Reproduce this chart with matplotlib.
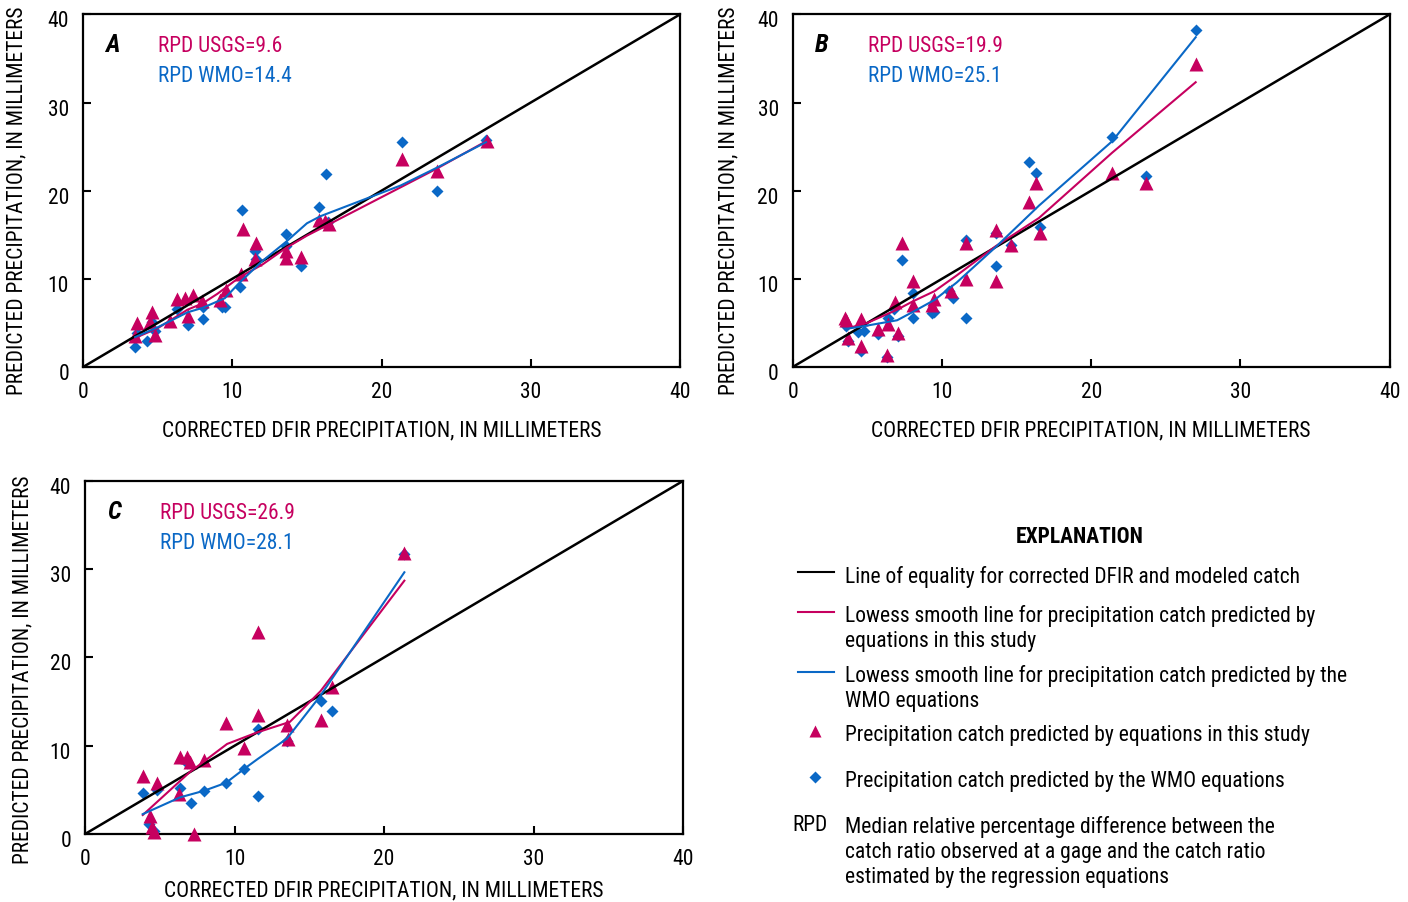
import matplotlib
matplotlib.use("Agg")
import matplotlib.pyplot as plt
from matplotlib import font_manager
from matplotlib.transforms import ScaledTranslation

installed = set(f.name for f in font_manager.fontManager.ttflist)
FONT = 'DejaVu Sans'
for cand in ['Roboto Condensed', 'Archivo Narrow', 'Liberation Sans Narrow', 'Barlow Semi Condensed', 'Asap Condensed']:
    if cand in installed:
        FONT = cand
        break
plt.rcParams['font.family'] = [FONT, 'DejaVu Sans']

PINK = '#C6005F'
BLUE = '#0A68C6'

# Panel A
a_usgs_x = [3.5, 3.6, 4.5, 4.6, 4.8, 5.8, 6.3, 6.8, 7.06, 7.35, 7.95, 9.2, 9.55, 10.56, 10.7,
            11.5, 11.57, 13.6, 13.6, 14.6, 15.8, 16.2, 16.5, 21.4, 23.7, 27.05]
a_usgs_y = [3.55, 5.0, 5.06, 6.27, 3.6, 5.25, 7.7, 7.8, 5.8, 8.16, 7.5, 7.6, 8.76, 10.5, 15.6,
            12.2, 14.05, 13.2, 12.4, 12.5, 16.7, 16.6, 16.2, 23.6, 22.2, 25.6]
a_wmo_x = [3.5, 3.6, 4.27, 4.6, 4.8, 6.3, 7.06, 8.06, 8.06, 9.29, 9.5, 10.5, 10.68, 11.5,
           11.6, 13.6, 13.6, 14.6, 15.8, 16.3, 16.4, 21.4, 23.7, 27.0]
a_wmo_y = [2.23, 3.9, 2.98, 5.06, 4.1, 6.6, 4.8, 5.4, 6.76, 6.76, 6.8, 9.1, 17.8, 13.1,
           12.3, 15.07, 13.75, 11.4, 18.2, 21.9, 16.4, 25.5, 20.0, 25.8]
a_usgs_fit_x = [3.5, 5, 7, 8, 9, 10.5, 12, 13.6, 15, 16.5, 21.3, 23.7, 27]
a_usgs_fit_y = [3.3, 4.4, 6.5, 7.2, 8.3, 10.2, 11.6, 13.5, 14.9, 16.2, 20.4, 22.5, 25.6]
a_wmo_fit_x = [3.5, 5, 7, 8, 9.5, 10.5, 12, 13.6, 15, 15.9, 21.3, 23.7, 27]
a_wmo_fit_y = [3.4, 4.5, 6.2, 6.7, 7.8, 9.6, 12.0, 14.2, 16.3, 17.1, 20.6, 22.6, 25.5]

# Panel B
b_usgs_x = [3.5, 3.6, 3.7, 4.6, 4.55, 5.7, 6.3, 6.4, 6.83, 7.06, 7.35, 8.06, 8.06, 9.45, 9.3,
            10.6, 11.6, 11.6, 13.6, 13.6, 14.6, 16.55, 15.8, 16.3, 21.4, 23.65, 27.0]
b_usgs_y = [5.5, 5.3, 3.3, 5.4, 2.35, 4.3, 1.36, 4.87, 7.4, 3.9, 14.1, 9.8, 7.0, 7.7, 7.0,
            8.65, 14.05, 10.0, 15.55, 9.8, 13.8, 15.2, 18.7, 20.85, 22.0, 20.85, 34.4]
b_wmo_x = [3.6, 4.4, 4.8, 4.6, 3.7, 5.7, 6.4, 6.3, 7.06, 7.35, 6.8, 8.06, 8.06, 9.3, 9.5,
           10.75, 10.5, 11.6, 11.6, 13.6, 13.6, 14.6, 16.55, 15.8, 16.3, 21.4, 23.65, 27.0]
b_wmo_y = [4.7, 4.0, 4.05, 1.85, 3.0, 3.74, 5.6, 1.1, 3.55, 12.1, 6.6, 8.4, 5.55, 6.1, 6.2,
           7.8, 8.6, 14.4, 5.55, 15.2, 11.4, 13.8, 15.9, 23.3, 22.06, 26.1, 21.7, 38.2]
b_usgs_fit_x = [3.5, 5, 7, 8, 9.5, 11, 13.6, 16.5, 21.4, 27]
b_usgs_fit_y = [4.3, 5.0, 6.5, 7.4, 8.6, 10.4, 13.7, 16.9, 24.3, 32.3]
b_wmo_fit_x = [3.5, 5, 7, 8, 9.5, 11, 13.6, 16.5, 21.4, 27]
b_wmo_fit_y = [4.3, 4.7, 5.3, 6.2, 7.6, 9.6, 13.6, 18.3, 25.6, 37.4]

# Panel C
c_usgs_x = [3.86, 4.8, 4.35, 4.46, 4.6, 6.35, 6.8, 7.0, 6.3, 7.96, 7.3, 9.43, 10.66, 11.55,
            11.55, 13.5, 13.6, 15.76, 16.5, 21.36]
c_usgs_y = [6.6, 5.74, 2.08, 0.75, 0.2, 8.7, 8.7, 8.2, 4.5, 8.4, 0.0, 12.6, 9.8, 22.85,
            13.5, 12.4, 10.8, 12.95, 16.6, 31.8]
c_wmo_x = [3.86, 4.8, 4.3, 4.6, 6.35, 6.8, 7.07, 7.96, 9.43, 10.66, 11.55, 11.6, 13.5,
           15.76, 16.5, 21.36]
c_wmo_y = [4.65, 5.0, 1.13, 0.35, 5.2, 8.1, 3.5, 4.9, 5.8, 7.4, 11.9, 4.3, 10.5,
           15.1, 13.9, 31.7]
c_usgs_fit_x = [3.86, 7.0, 9.5, 11.5, 13.7, 15.76, 21.36]
c_usgs_fit_y = [2.15, 7.0, 10.2, 11.5, 12.7, 16.2, 28.7]
c_wmo_fit_x = [3.86, 6.35, 7.96, 9.43, 10.66, 11.55, 13.5, 15.76, 21.36]
c_wmo_fit_y = [2.25, 4.15, 4.9, 5.8, 7.4, 8.5, 10.8, 15.7, 29.65]

panels = [
    ('A', 'RPD USGS=9.6', 'RPD WMO=14.4', a_usgs_x, a_usgs_y, a_wmo_x, a_wmo_y,
     a_usgs_fit_x, a_usgs_fit_y, a_wmo_fit_x, a_wmo_fit_y,
     [0.059, 0.5925, 0.424, 0.3905], -0.150, -0.094, 0.473),
    ('B', 'RPD USGS=19.9', 'RPD WMO=25.1', b_usgs_x, b_usgs_y, b_wmo_x, b_wmo_y,
     b_usgs_fit_x, b_usgs_fit_y, b_wmo_fit_x, b_wmo_fit_y,
     [0.563, 0.5925, 0.424, 0.3905], -0.150, -0.089, 0.473),
    ('C', 'RPD USGS=26.9', 'RPD WMO=28.1', c_usgs_x, c_usgs_y, c_wmo_x, c_wmo_y,
     c_usgs_fit_x, c_usgs_fit_y, c_wmo_fit_x, c_wmo_fit_y,
     [0.0604, 0.0753, 0.4247, 0.391], -0.130, -0.087, 0.467),
]

fig = plt.figure(figsize=(14.08, 9.03), dpi=100)
FS = 15.5
shift = ScaledTranslation(0, -4 / 100, fig.dpi_scale_trans)

for (letter, t1, t2, ux, uy, wx, wy, ufx, ufy, wfx, wfy, pos, xl_y, yl_x, yl_y) in panels:
    ax = fig.add_axes(pos)
    ax.set_xlim(0, 40)
    ax.set_ylim(0, 40)
    ax.set_xticks([0, 10, 20, 30, 40])
    ax.set_yticks([0, 10, 20, 30, 40])
    ax.tick_params(direction='in', length=6, width=1.5, labelsize=FS, pad=10)
    for lab in ax.get_yticklabels():
        lab.set_transform(lab.get_transform() + shift)
    for s in ax.spines.values():
        s.set_linewidth(1.6)
    ax.plot(wx, wy, 'D', color=BLUE, ms=6.5, mec='none', clip_on=False, zorder=3)
    ax.plot(ux, uy, '^', color=PINK, ms=9.5, mec='none', clip_on=False, zorder=3)
    ax.plot([0, 40], [0, 40], color='black', lw=1.8, zorder=4)
    ax.plot(ufx, ufy, color=PINK, lw=1.5, zorder=5)
    ax.plot(wfx, wfy, color=BLUE, lw=1.5, zorder=5)
    ax.text(0.037, 0.915, letter, transform=ax.transAxes, fontsize=18, fontweight='bold',
            fontstyle='italic', va='center', ha='left')
    ax.text(0.126, 0.912, t1, transform=ax.transAxes, fontsize=FS, color=PINK, va='center')
    ax.text(0.126, 0.827, t2, transform=ax.transAxes, fontsize=FS, color=BLUE, va='center')
    ax.set_xlabel('CORRECTED DFIR PRECIPITATION, IN MILLIMETERS', fontsize=FS)
    ax.set_ylabel('PREDICTED PRECIPITATION, IN MILLIMETERS', fontsize=FS)
    ax.xaxis.set_label_coords(0.5, xl_y)
    ax.yaxis.set_label_coords(yl_x, yl_y)

# Explanation block in pixel coordinates
lg = fig.add_axes([0, 0, 1, 1])
lg.set_xlim(0, 1408)
lg.set_ylim(903, 0)
lg.axis('off')
lg.text(1080, 537, 'EXPLANATION', fontsize=FS, fontweight='bold', ha='center', va='center')
tx = 845
LS = 1.25
lg.plot([798, 834], [573, 573], color='black', lw=1.5)
lg.text(tx, 577, 'Line of equality for corrected DFIR and modeled catch', fontsize=FS, va='center')
lg.plot([798, 834], [613, 613], color=PINK, lw=1.5)
lg.text(tx, 629, 'Lowess smooth line for precipitation catch predicted by\nequations in this study',
        fontsize=FS, va='center', linespacing=LS)
lg.plot([798, 834], [673, 673], color=BLUE, lw=1.5)
lg.text(tx, 689, 'Lowess smooth line for precipitation catch predicted by the\nWMO equations',
        fontsize=FS, va='center', linespacing=LS)
lg.plot([815], [732], '^', color=PINK, ms=8.5, mec='none')
lg.text(tx, 736, 'Precipitation catch predicted by equations in this study', fontsize=FS, va='center')
lg.plot([815], [778], 'D', color=BLUE, ms=6.3, mec='none')
lg.text(tx, 782, 'Precipitation catch predicted by the WMO equations', fontsize=FS, va='center')
lg.text(792, 826, 'RPD', fontsize=FS, va='center')
lg.text(tx, 852, 'Median relative percentage difference between the\ncatch ratio observed at a gage and the catch ratio\nestimated by the regression equations',
        fontsize=FS, va='center', linespacing=LS)

fig.savefig('out.png', dpi=100)
